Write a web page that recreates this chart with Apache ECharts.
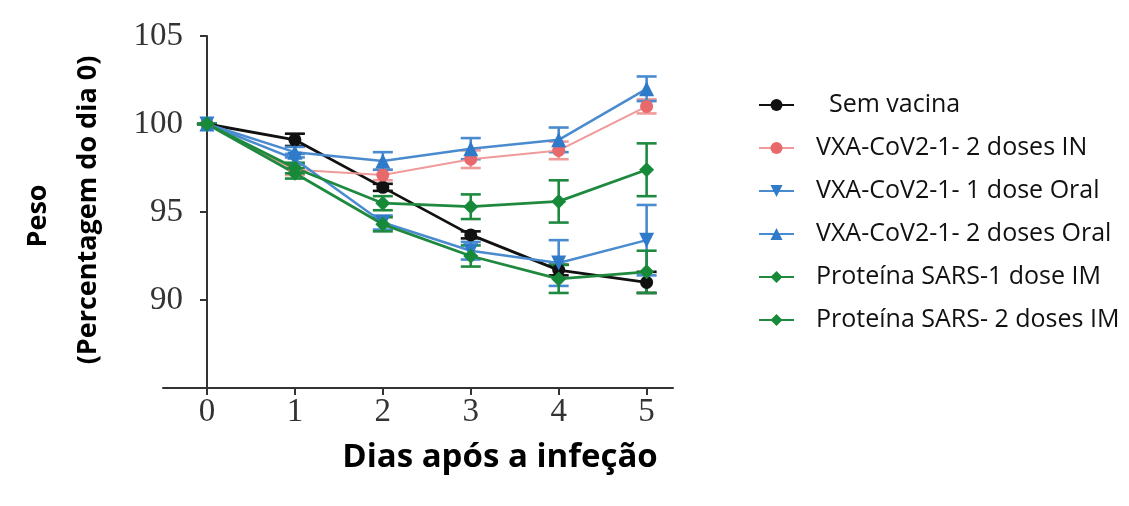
<!DOCTYPE html>
<html>
<head>
<meta charset="utf-8">
<script src="https://cdn.jsdelivr.net/npm/echarts@6/dist/echarts.min.js"></script>
<style>
  html, body { margin: 0; padding: 0; background: #fff; }
  #chart { width: 1129px; height: 506px; }
</style>
</head>
<body>
<div id="chart"></div>
<script>
// dias após a infeção
const dias = [0, 1, 2, 3, 4, 5];
const yTicks = [90, 95, 100, 105];

// peso médio (% do dia 0) e barras de erro
const semVacina = [100, 99.1, 96.4, 93.7, 91.7, 91.0];
const semVacinaErr = [0, 0.35, 0.2, 0.2, 0.3, 0.6];
const in2doses = [100, 97.4, 97.1, 98.0, 98.5, 101.0];
const in2dosesErr = [0, 0.3, 0.3, 0.5, 0.5, 0.4];
const oral1dose = [100, 98.0, 94.4, 92.8, 92.1, 93.4];
const oral1doseErr = [0, 0.3, 0.4, 0.5, 1.3, 2.0];
const oral2doses = [100, 98.4, 97.9, 98.6, 99.1, 102.0];
const oral2dosesErr = [0, 0.3, 0.5, 0.6, 0.7, 0.7];
const sars1dose = [100, 97.5, 95.5, 95.3, 95.6, 97.4];
const sars1doseErr = [0, 0.3, 0.4, 0.7, 1.2, 1.5];
const sars2doses = [100, 97.2, 94.3, 92.5, 91.2, 91.6];
const sars2dosesErr = [0, 0.3, 0.4, 0.6, 0.8, 1.2];

const grupos = [
  { name: 'Sem vacina', vals: semVacina, err: semVacinaErr, color: '#111111', line: '#111111', symbol: 'circle', size: 13, width: 2.8 },
  { name: 'VXA-CoV2-1- 2 doses IN', vals: in2doses, err: in2dosesErr, color: '#e8696b', line: '#f09a9a', symbol: 'circle', size: 13, width: 2 },
  { name: 'VXA-CoV2-1- 1 dose Oral', vals: oral1dose, err: oral1doseErr, color: '#2f7bc9', line: '#4a8bd0', symbol: 'triangle', rotate: 180, size: 15, width: 2.5 },
  { name: 'VXA-CoV2-1- 2 doses Oral', vals: oral2doses, err: oral2dosesErr, color: '#2f7bc9', line: '#4a8bd0', symbol: 'triangle', size: 15, width: 2.5 },
  { name: 'Proteína SARS-1 dose IM', vals: sars1dose, err: sars1doseErr, color: '#178a3a', line: '#1f8a3f', symbol: 'diamond', size: 15, width: 2.8 },
  { name: 'Proteína SARS- 2 doses IM', vals: sars2doses, err: sars2dosesErr, color: '#178a3a', line: '#1f8a3f', symbol: 'diamond', size: 15, width: 2.8 }
];

const series = [];
grupos.forEach(function (g) {
  series.push({
    name: g.name + ' erro',
    type: 'custom',
    silent: true,
    z: 2,
    data: dias.map(function (d, i) { return [d, g.vals[i] - g.err[i], g.vals[i] + g.err[i]]; }),
    renderItem: function (params, api) {
      const lo = api.coord([api.value(0), api.value(1)]);
      const hi = api.coord([api.value(0), api.value(2)]);
      const w = 10;
      const st = { stroke: g.line, lineWidth: 2.6 };
      return {
        type: 'group',
        children: [
          { type: 'line', shape: { x1: lo[0], y1: lo[1], x2: hi[0], y2: hi[1] }, style: st },
          { type: 'line', shape: { x1: lo[0] - w, y1: lo[1], x2: lo[0] + w, y2: lo[1] }, style: st },
          { type: 'line', shape: { x1: hi[0] - w, y1: hi[1], x2: hi[0] + w, y2: hi[1] }, style: st }
        ]
      };
    }
  });
  series.push({
    name: g.name,
    type: 'line',
    z: 3,
    data: dias.map(function (d, i) { return [d, g.vals[i]]; }),
    symbol: g.symbol,
    symbolRotate: g.rotate || 0,
    symbolSize: g.size,
    showAllSymbol: true,
    itemStyle: { color: g.color },
    lineStyle: { color: g.line, width: g.width }
  });
});

const chart = echarts.init(document.getElementById('chart'));
chart.setOption({
  animation: false,
  backgroundColor: '#ffffff',
  grid: { left: 163, right: 456, top: 36, bottom: 118, containLabel: false, outerBoundsMode: 'none' },
  xAxis: {
    type: 'value',
    min: -0.5,
    max: 5.3,
    axisLine: { onZero: false, lineStyle: { color: '#333', width: 2 } },
    axisTick: { customValues: dias, length: 7, lineStyle: { color: '#333', width: 2 } },
    axisLabel: { customValues: dias, margin: 8, fontFamily: 'Liberation Serif', fontSize: 33, color: '#333' },
    splitLine: { show: false }
  },
  yAxis: {
    type: 'value',
    min: 85,
    max: 105,
    interval: 5,
    // eixo y cruza o eixo x no dia 0 (grid começa em -0.5)
    offset: -44,
    axisLine: { show: true, onZero: false, lineStyle: { color: '#333', width: 2 } },
    axisTick: { show: true, customValues: yTicks, length: 7, lineStyle: { color: '#333', width: 2 } },
    axisLabel: { customValues: yTicks, margin: 24, fontFamily: 'Liberation Serif', fontSize: 33, color: '#333' },
    splitLine: { show: false }
  },
  legend: {
    orient: 'vertical',
    left: 753,
    top: 86,
    itemWidth: 35,
    itemHeight: 15,
    itemGap: 15,
    data: grupos.map(function (g) { return g.name; }),
    formatter: function (name) { return name === 'Sem vacina' ? '  ' + name : name; },
    textStyle: { fontFamily: 'Open Sans', fontSize: 25, lineHeight: 28, color: '#111', padding: [0, 0, 0, 17] }
  },
  graphic: [
    {
      type: 'text', x: 38, y: 216, rotation: Math.PI / 2,
      style: { text: 'Peso', align: 'center', verticalAlign: 'middle', font: 'bold 27px "Open Sans"', fill: '#000' }
    },
    {
      type: 'text', x: 88, y: 210, rotation: Math.PI / 2,
      style: { text: '(Percentagem do dia 0)', align: 'center', verticalAlign: 'middle', font: 'bold 27px "Open Sans"', fill: '#000' }
    },
    {
      type: 'text', x: 500, y: 458,
      style: { text: 'Dias após a infeção', align: 'center', verticalAlign: 'middle', font: 'bold 33px "Open Sans"', fill: '#000' }
    }
  ],
  series: series
});
</script>
</body>
</html>
